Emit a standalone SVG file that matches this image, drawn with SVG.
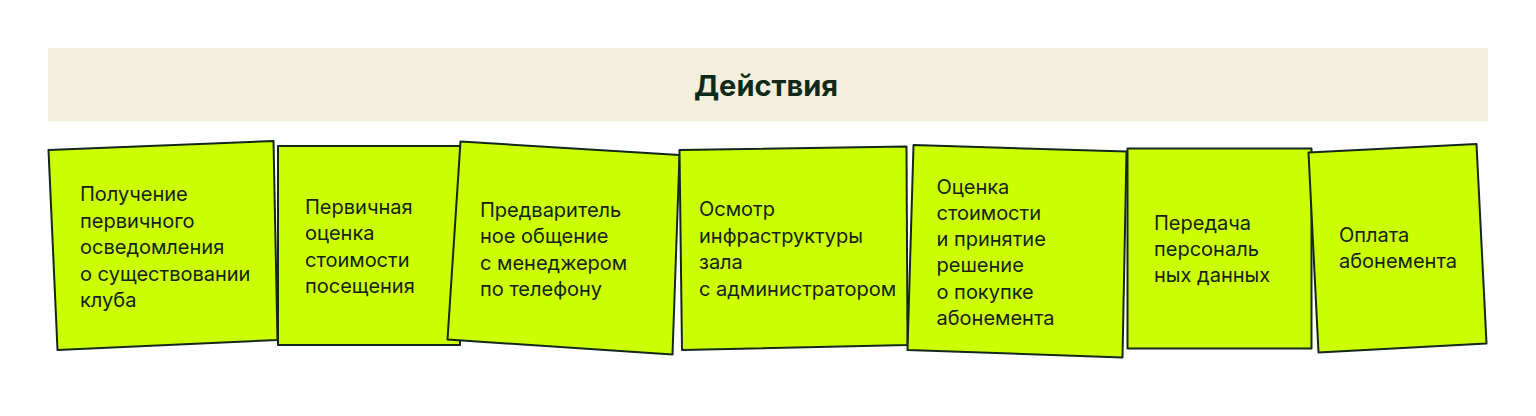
<svg xmlns="http://www.w3.org/2000/svg" width="1536" height="416" viewBox="0 0 1536 416">
<style>
.note{fill:#ccff00;stroke:#13281a;stroke-width:2;stroke-linejoin:round}
.t{font-family:Inter,"Noto Sans","DejaVu Sans",sans-serif;font-size:20px;fill:#13231a}
.title{font-family:Inter,"Noto Sans","DejaVu Sans",sans-serif;font-size:29px;font-weight:700;fill:#0f2a1a}
</style>
<rect width="1536" height="416" fill="#ffffff"/>
<g id="header">
<rect x="48" y="48" width="1440" height="73.5" fill="#f2f0dd"/>
<text class="title" x="766" y="96" text-anchor="middle">Действия</text>
</g>
<g id="note1">
<polygon class="note" points="48.5,150 273.5,141 277.5,340 57.5,350"/>
<text class="t" x="80"><tspan x="80" y="201">Получение</tspan><tspan x="80" y="227.5">первичного</tspan><tspan x="80" y="254">осведомления</tspan><tspan x="80" y="280.5">о существовании</tspan><tspan x="80" y="307">клуба</tspan></text>
</g>
<g id="note2">
<polygon class="note" points="278,146 460,146 460,345 278,345"/>
<text class="t"><tspan x="305" y="213.5">Первичная</tspan><tspan x="305" y="240">оценка</tspan><tspan x="305" y="266.5">стоимости</tspan><tspan x="305" y="293">посещения</tspan></text>
</g>
<g id="note3">
<polygon class="note" points="460.5,141.5 679.5,155 672.5,354.5 447.5,339.5"/>
<text class="t"><tspan x="480" y="216.5">Предваритель</tspan><tspan x="480" y="243">ное общение</tspan><tspan x="480" y="269.5">с менеджером</tspan><tspan x="480" y="296">по телефону</tspan></text>
</g>
<g id="note4">
<polygon class="note" points="679.5,150 906.5,146.5 907.5,345 682,350"/>
<text class="t"><tspan x="699" y="216">Осмотр</tspan><tspan x="699" y="242.5">инфраструктуры</tspan><tspan x="699" y="269">зала</tspan><tspan x="699" y="295.5">с администратором</tspan></text>
</g>
<g id="note5">
<polygon class="note" points="913.5,145 1126.5,151.5 1122.5,357.5 907.5,350"/>
<text class="t"><tspan x="936.5" y="193.5">Оценка</tspan><tspan x="936.5" y="220">стоимости</tspan><tspan x="936.5" y="246">и принятие</tspan><tspan x="936.5" y="272">решение</tspan><tspan x="936.5" y="298.5">о покупке</tspan><tspan x="936.5" y="324.5">абонемента</tspan></text>
</g>
<g id="note6">
<polygon class="note" points="1127.5,148.5 1311.5,148.5 1311.5,348.5 1127.5,348.5"/>
<text class="t"><tspan x="1154" y="229.5">Передача</tspan><tspan x="1154" y="256">персональ</tspan><tspan x="1154" y="282">ных данных</tspan></text>
</g>
<g id="note7">
<polygon class="note" points="1308.5,152.5 1476.5,144 1486.5,343.5 1318.5,352.5"/>
<text class="t"><tspan x="1339" y="241.5">Оплата</tspan><tspan x="1339" y="268">абонемента</tspan></text>
</g>
<g id="connectors"/>
</svg>
